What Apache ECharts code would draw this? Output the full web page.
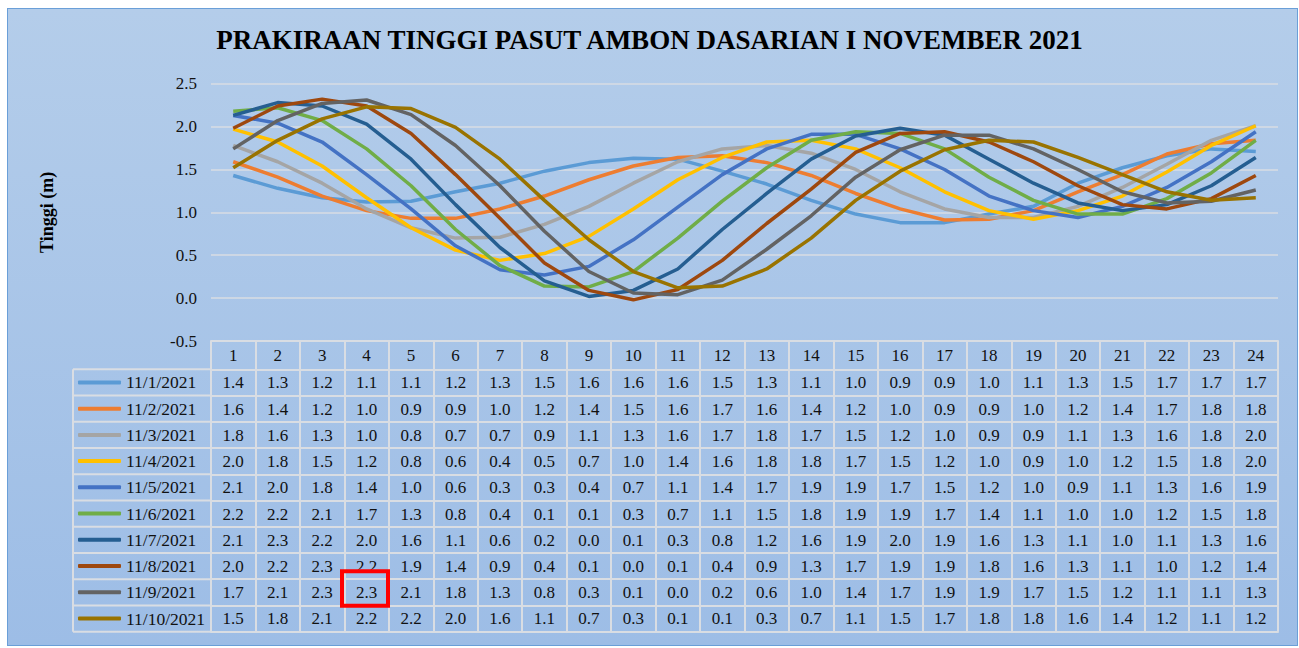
<!DOCTYPE html>
<html>
<head>
<meta charset="utf-8">
<title>Prakiraan Tinggi Pasut Ambon</title>
<script src="https://cdn.jsdelivr.net/npm/echarts@6/dist/echarts.min.js"></script>
<style>
html, body { margin: 0; padding: 0; background: #fff; }
#box { position: absolute; left: 7px; top: 8px; width: 1289px; height: 636px; border: 1px solid #6a9fd8; background: linear-gradient(#b4cdea, #9dbde6); }
#main { position: absolute; left: 0; top: 0; width: 1299px; height: 648px; }
</style>
</head>
<body>
<div id="box"></div>
<div id="main"></div>
<script>
// jam 1..24
var hours = ['1','2','3','4','5','6','7','8','9','10','11','12','13','14','15','16','17','18','19','20','21','22','23','24'];
var days = ['11/1/2021','11/2/2021','11/3/2021','11/4/2021','11/5/2021','11/6/2021','11/7/2021','11/8/2021','11/9/2021','11/10/2021'];

// tinggi pasut (m)
var nov1  = [1.43,1.28,1.17,1.12,1.13,1.24,1.34,1.48,1.58,1.63,1.62,1.48,1.33,1.14,0.98,0.88,0.88,0.98,1.07,1.34,1.52,1.66,1.74,1.71];
var nov2  = [1.59,1.41,1.19,1.02,0.93,0.93,1.04,1.19,1.38,1.54,1.64,1.66,1.58,1.43,1.22,1.04,0.91,0.92,1.02,1.24,1.44,1.68,1.80,1.84];
var nov3  = [1.78,1.59,1.34,1.04,0.82,0.70,0.71,0.86,1.07,1.34,1.59,1.74,1.78,1.69,1.50,1.24,1.04,0.94,0.94,1.07,1.29,1.56,1.84,2.01];
var nov4  = [1.97,1.82,1.54,1.17,0.82,0.56,0.44,0.52,0.72,1.04,1.38,1.64,1.82,1.84,1.74,1.52,1.24,1.02,0.92,1.02,1.19,1.47,1.78,2.01];
var nov5  = [2.13,2.04,1.82,1.44,1.04,0.61,0.33,0.27,0.37,0.68,1.06,1.44,1.74,1.91,1.91,1.74,1.50,1.19,1.02,0.94,1.07,1.29,1.59,1.94];
var nov6  = [2.18,2.22,2.07,1.74,1.31,0.80,0.38,0.14,0.13,0.31,0.70,1.13,1.52,1.84,1.94,1.92,1.74,1.41,1.14,0.98,0.98,1.16,1.46,1.84];
var nov7  = [2.13,2.28,2.24,2.03,1.62,1.09,0.59,0.20,0.02,0.09,0.34,0.80,1.22,1.62,1.89,1.98,1.90,1.62,1.34,1.11,1.02,1.09,1.31,1.64];
var nov8  = [1.98,2.24,2.32,2.24,1.92,1.44,0.93,0.41,0.09,-0.02,0.10,0.44,0.87,1.27,1.70,1.92,1.94,1.82,1.59,1.31,1.09,1.04,1.16,1.43];
var nov9  = [1.74,2.07,2.27,2.31,2.14,1.78,1.31,0.78,0.31,0.06,0.04,0.21,0.57,0.96,1.41,1.73,1.90,1.90,1.74,1.50,1.24,1.11,1.13,1.26];
var nov10 = [1.52,1.84,2.09,2.23,2.21,1.99,1.62,1.14,0.68,0.31,0.12,0.14,0.34,0.70,1.14,1.48,1.73,1.84,1.82,1.64,1.44,1.24,1.14,1.17];

var rows = [nov1, nov2, nov3, nov4, nov5, nov6, nov7, nov8, nov9, nov10];
var colors = ['#5B9BD5','#ED7D31','#A5A5A5','#FFC000','#4472C4','#70AD47','#255E91','#9E480E','#636363','#997300'];

var font = 'Liberation Serif';
var textColor = '#111';
var tableLine = {color: '#d9dde3', width: 2};

// ukuran tabel data di bawah grafik
var plotLeft = 211, plotRight = 1278, plotTop = 83.7, plotBottom = 341;
var headH = 28.3, rowH = 26.24, legendLeft = 73;

function fmt(v) {
	var s = v.toFixed(1);
	return s === '-0.0' ? '0.0' : s;
}

var chartDom = document.getElementById('main');
var myChart = echarts.init(chartDom, null, {renderer: 'svg'});

var xAxes = [{
	type: 'category',
	data: hours,
	position: 'bottom',
	boundaryGap: true,
	axisLine: {onZero: false, lineStyle: tableLine},
	axisTick: {show: true, interval: 0, length: headH, lineStyle: tableLine},
	axisLabel: {interval: 0, margin: 6, fontFamily: font, fontSize: 17, color: textColor}
}];
rows.forEach(function(r, k) {
	xAxes.push({
		type: 'category',
		data: hours,
		position: 'bottom',
		offset: headH + rowH * k,
		axisLine: {onZero: false, lineStyle: tableLine},
		axisTick: {show: true, interval: 0, length: rowH, lineStyle: tableLine},
		axisLabel: {
			interval: 0, margin: 5, fontFamily: font, fontSize: 17, color: textColor,
			formatter: function(v, i) { return fmt(r[i]); }
		}
	});
});
xAxes.push({
	type: 'category',
	data: hours,
	position: 'bottom',
	offset: headH + rowH * 10,
	axisLine: {onZero: false, lineStyle: tableLine},
	axisTick: {show: false},
	axisLabel: {show: false}
});

// garis kolom legenda
var graphics = [{
	type: 'line',
	shape: {x1: legendLeft, y1: plotBottom + headH, x2: legendLeft, y2: plotBottom + headH + rowH * 10},
	style: {stroke: tableLine.color, lineWidth: 2},
	silent: true
}];
for (var k = 0; k <= 10; k++) {
	var yy = plotBottom + headH + rowH * k;
	graphics.push({
		type: 'line',
		shape: {x1: legendLeft, y1: yy, x2: plotLeft, y2: yy},
		style: {stroke: tableLine.color, lineWidth: 2},
		silent: true
	});
}
// kotak merah
graphics.push({
	type: 'rect',
	shape: {x: 342, y: 571.3, width: 46, height: 34.4},
	style: {fill: null, stroke: '#ff0000', lineWidth: 4},
	silent: true,
	z: 100
});

var option = {
	color: colors,
	animation: false,
	title: {
		text: 'PRAKIRAAN TINGGI PASUT AMBON DASARIAN I NOVEMBER 2021',
		left: 'center',
		top: 21,
		textStyle: {fontFamily: font, fontSize: 27, fontWeight: 'bold', color: '#000'}
	},
	legend: {
		data: days,
		orient: 'vertical',
		left: 78,
		top: plotBottom + headH + 3.1,
		padding: 0,
		itemWidth: 43,
		itemHeight: 4,
		itemGap: rowH - 20,
		icon: 'roundRect',
		selectedMode: false,
		textStyle: {fontFamily: font, fontSize: 17.5, color: textColor, lineHeight: 20}
	},
	grid: {
		left: plotLeft,
		right: 1299 - plotRight,
		top: plotTop,
		bottom: 648 - plotBottom,
		outerBoundsMode: 'none',
		containLabel: false
	},
	xAxis: xAxes,
	yAxis: {
		type: 'value',
		min: -0.5,
		max: 2.5,
		interval: 0.5,
		name: 'Tinggi (m)',
		nameLocation: 'middle',
		nameGap: 155,
		nameRotate: 90,
		nameTextStyle: {fontFamily: font, fontSize: 18, fontWeight: 'bold', color: '#000'},
		axisLine: {show: false},
		axisTick: {show: false},
		axisLabel: {
			margin: 14, fontFamily: font, fontSize: 17, color: textColor,
			formatter: function(v) { return v.toFixed(1); }
		},
		splitLine: {lineStyle: {color: '#d9dde3', width: 1.5}}
	},
	graphic: graphics,
	series: rows.map(function(r, i) {
		return {
			name: days[i],
			type: 'line',
			data: r,
			symbol: 'none',
			lineStyle: {width: 3.5},
			emphasis: {disabled: true}
		};
	})
};

option && myChart.setOption(option);
</script>
</body>
</html>
